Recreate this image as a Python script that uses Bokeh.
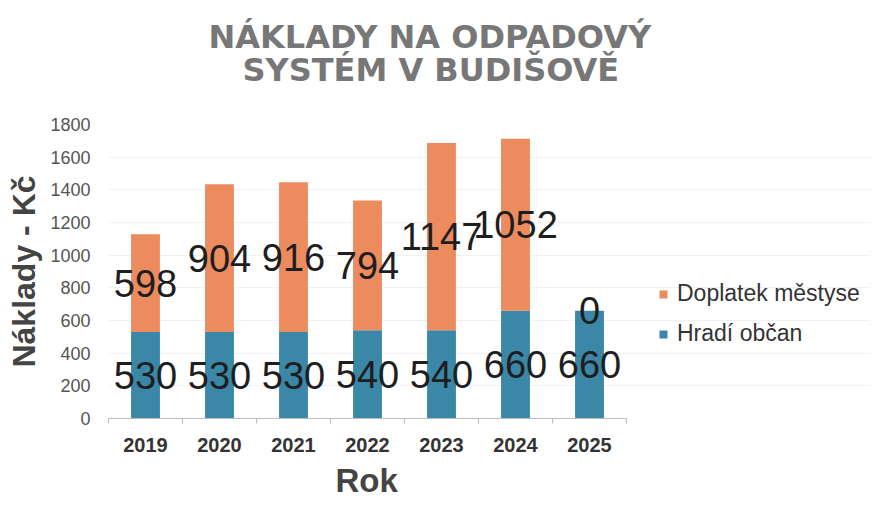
from bokeh.plotting import figure
from bokeh.models import ColumnDataSource, Range1d, FixedTicker, Legend, LegendItem, Title
from bokeh.core.properties import value
from bokeh.embed import file_html
from bokeh.resources import INLINE

years = ["2019", "2020", "2021", "2022", "2023", "2024", "2025"]
hradi_obcan = [530, 530, 530, 540, 540, 660, 660]
doplatek_mestyse = [598, 904, 916, 794, 1147, 1052, 0]
y_ticks = [0, 200, 400, 600, 800, 1000, 1200, 1400, 1600, 1800]

title_lines = ["NÁKLADY NA ODPADOVÝ", "SYSTÉM V BUDIŠOVĚ"]
x_title = "Rok"
y_title = "Náklady - Kč"
series_names = ["Doplatek městyse", "Hradí občan"]

ORANGE = "#EC8B5E"
BLUE = "#3B87A8"
FONT = "Liberation Sans"
TFONT = "DejaVu Sans"

# layout (pixels)
W, H = 877, 514
LEFT, RIGHT, TOP, BOTTOM = 108, 7, 124, 96
FRAME_W = W - LEFT - RIGHT
CAT_AREA_W = 518          # width occupied by the categories
x_end = len(years) * FRAME_W / CAT_AREA_W

xs = [i + 0.5 for i in range(len(years))]
totals = [a + b for a, b in zip(hradi_obcan, doplatek_mestyse)]
src = ColumnDataSource(dict(
    x=xs,
    hradi=hradi_obcan,
    dopl=doplatek_mestyse,
    total=totals,
    hradi_mid=[h / 2 for h in hradi_obcan],
    dopl_mid=[h + d / 2 for h, d in zip(hradi_obcan, doplatek_mestyse)],
    hradi_txt=[str(v) for v in hradi_obcan],
    dopl_txt=[str(v) for v in doplatek_mestyse],
))

p = figure(width=W, height=H, output_backend="svg", toolbar_location=None,
           x_range=Range1d(0, x_end), y_range=Range1d(0, 1800),
           min_border_left=LEFT, min_border_right=RIGHT, min_border_top=TOP,
           min_border_bottom=BOTTOM)
p.background_fill_color = "#ffffff"
p.border_fill_color = "#ffffff"
p.outline_line_color = None

r_blue = p.vbar(x="x", width=0.39, bottom=0, top="hradi", source=src,
                fill_color=BLUE, line_color=None)
r_orange = p.vbar(x="x", width=0.39, bottom="hradi", top="total", source=src,
                  fill_color=ORANGE, line_color=None)

for col_y, col_t in [("hradi_mid", "hradi_txt"), ("dopl_mid", "dopl_txt")]:
    p.text(x="x", y=col_y, text=col_t, source=src, text_font=value(FONT),
           text_font_size="38px", text_color="#1e1e1e", text_align="center",
           text_baseline="middle")

# axes
p.xaxis.bounds = (0, len(years))
p.xaxis.ticker = FixedTicker(ticks=xs, minor_ticks=list(range(len(years) + 1)))
p.xaxis.major_label_overrides = {x: y for x, y in zip(xs, years)}
p.xaxis.major_tick_line_color = None
p.xaxis.minor_tick_in = 0
p.xaxis.minor_tick_out = 5
p.xaxis.minor_tick_line_color = "#bdbdbd"
p.xaxis.axis_line_color = "#bdbdbd"
p.xaxis.major_label_text_font = FONT
p.xaxis.major_label_text_font_style = "bold"
p.xaxis.major_label_text_font_size = "20px"
p.xaxis.major_label_text_color = "#333333"
p.xaxis.major_label_standoff = 13

# x-axis title centred under the category area
p.add_layout(Title(text=x_title, align="left", offset=227, text_font=FONT,
                   text_font_size="33px", text_font_style="bold",
                   text_color="#444444", standoff=11), "below")

p.yaxis.ticker = FixedTicker(ticks=y_ticks)
p.yaxis.axis_line_color = None
p.yaxis.major_tick_line_color = None
p.yaxis.minor_tick_line_color = None
p.yaxis.major_label_text_font = FONT
p.yaxis.major_label_text_font_size = "18px"
p.yaxis.major_label_text_color = "#555555"
p.yaxis.major_label_standoff = 12
p.yaxis.axis_label = y_title
p.yaxis.axis_label_text_font = FONT
p.yaxis.axis_label_text_font_style = "bold"
p.yaxis.axis_label_text_font_size = "32px"
p.yaxis.axis_label_text_color = "#444444"
p.yaxis.axis_label_standoff = 5

p.xgrid.grid_line_color = None
p.ygrid.ticker = FixedTicker(ticks=y_ticks)
p.ygrid.grid_line_color = "#f1f1f1"

# title (two lines)
t2 = Title(text=title_lines[1], align="left", text_font=TFONT, text_font_size="32px",
           text_font_style="bold", text_color="#777777", standoff=72, offset=134)
t1 = Title(text=title_lines[0], align="left", text_font=TFONT, text_font_size="32px",
           text_font_style="bold", text_color="#777777", standoff=-86, offset=100)
p.add_layout(t2, "above")
p.add_layout(t1, "above")

legend = Legend(items=[LegendItem(label=series_names[0], renderers=[r_orange]),
                       LegendItem(label=series_names[1], renderers=[r_blue])],
                location=(550, 71), orientation="vertical",
                label_text_font=FONT, label_text_font_size="23px",
                label_text_color="#333333", glyph_width=10, glyph_height=10,
                label_standoff=9, spacing=13, padding=0, margin=0,
                border_line_color=None, background_fill_alpha=0)
p.add_layout(legend, "center")

open("out.html", "w").write(file_html(p, INLINE))
